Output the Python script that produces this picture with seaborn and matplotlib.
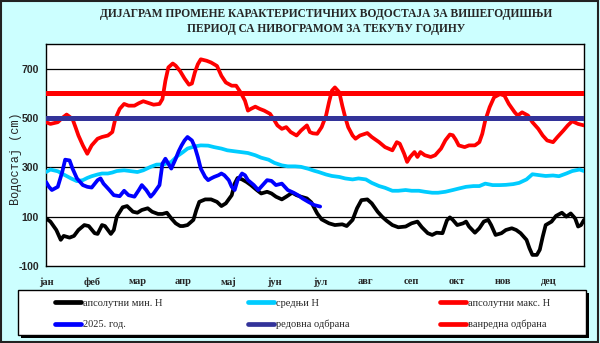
import numpy as np
import pandas as pd
import matplotlib
matplotlib.use("Agg")
import matplotlib.pyplot as plt
from matplotlib.patches import Rectangle
from matplotlib.lines import Line2D
import seaborn as sns

# ---------------- data ----------------
months = ["јан", "феб", "мар", "апр", "мај", "јун", "јул", "авг", "сеп", "окт", "нов", "дец"]

min_days = [0, 3, 7, 10, 12, 16, 19, 22, 26, 29, 33, 35, 38, 40, 44, 46, 48, 52, 55, 59, 62, 65, 69, 72, 76, 79, 82, 85, 88,
            91, 93, 96, 100, 102, 104, 108, 112, 116, 119, 122, 126, 128, 130, 133, 136, 139, 143, 146, 150, 153, 156, 160,
            163, 167, 170, 173, 177, 180, 184, 187, 192, 196, 201, 204, 208, 211, 214, 218, 221, 225, 228, 231, 235, 239,
            244, 248, 252, 255, 259, 262, 265, 269, 272, 274, 276, 279, 283, 285, 287, 291, 294, 297, 300, 302, 305, 309,
            312, 316, 319, 322, 326, 328, 330, 333, 335, 337, 339, 343, 346, 350, 353, 356, 359, 361, 363, 365]
min_vals = [93, 80, 46, 6, 22, 15, 22, 46, 66, 62, 33, 30, 66, 62, 30, 46, 100, 138, 143, 120, 116, 127, 134, 120, 111, 111,
            116, 93, 73, 62, 62, 66, 87, 127, 160, 170, 170, 160, 143, 154, 187, 234, 257, 251, 241, 228, 208, 194, 201,
            194, 181, 170, 181, 197, 187, 181, 174, 158, 113, 89, 73, 66, 69, 62, 87, 134, 167, 170, 154, 120, 100, 84, 66,
            57, 60, 73, 80, 57, 33, 26, 35, 33, 85, 97, 87, 66, 73, 80, 60, 35, 53, 80, 87, 66, 26, 33, 46, 53, 46, 33, 6,
            -28, -55, -55, -34, 19, 66, 80, 103, 116, 100, 113, 93, 60, 66, 87]

mean_days = [0, 3, 8, 12, 17, 21, 25, 28, 31, 35, 38, 42, 45, 48, 53, 57, 62, 66, 71, 75, 80, 85, 89, 93, 96, 101, 105,
             110, 114, 119, 123, 128, 132, 137, 142, 146, 151, 155, 160, 164, 169, 173, 178, 182, 185, 190, 194, 199,
             203, 208, 212, 217, 221, 226, 230, 235, 239, 244, 248, 253, 257, 262, 266, 271, 276, 280, 285, 290, 294,
             298, 303, 308, 312, 317, 321, 326, 330, 335, 339, 344, 348, 353, 357, 362, 365]
mean_vals = [281, 291, 284, 271, 255, 244, 248, 257, 264, 271, 275, 275, 279, 285, 288, 285, 281, 288, 302, 311, 312, 322,
             345, 362, 376, 385, 389, 388, 382, 376, 369, 365, 362, 358, 349, 339, 331, 318, 308, 304, 304, 302, 294,
             286, 281, 271, 265, 261, 255, 251, 255, 251, 237, 224, 217, 205, 205, 208, 205, 205, 201, 197, 197, 201,
             208, 214, 221, 224, 224, 234, 228, 228, 229, 232, 237, 251, 272, 268, 265, 267, 264, 275, 285, 291, 285]

max_days = [0, 3, 8, 11, 14, 18, 20, 22, 25, 28, 31, 35, 38, 42, 45, 47, 50, 53, 56, 60, 63, 66, 70, 73, 77, 79, 81, 83,
            86, 88, 91, 94, 97, 99, 101, 103, 105, 109, 112, 116, 119, 122, 126, 129, 132, 135, 137, 139, 142, 145, 148,
            152, 155, 157, 160, 163, 166, 170, 173, 177, 179, 181, 184, 187, 190, 192, 194, 196, 199, 201, 203, 205, 208,
            210, 213, 218, 221, 226, 230, 235, 238, 240, 243, 245, 247, 250, 252, 254, 257, 261, 264, 268, 271, 274, 276,
            278, 280, 284, 287, 291, 294, 296, 298, 301, 304, 308, 311, 314, 318, 320, 323, 327, 330, 334, 337, 340, 344,
            347, 351, 354, 357, 361, 365]
max_vals = [483, 476, 483, 500, 514, 496, 463, 429, 389, 355, 389, 416, 423, 429, 443, 496, 537, 557, 550, 550, 560, 568,
            560, 554, 557, 577, 651, 705, 721, 712, 690, 660, 635, 640, 685, 718, 738, 732, 725, 711, 671, 644, 631, 631,
            604, 570, 530, 537, 546, 537, 530, 517, 490, 470, 456, 463, 443, 429, 449, 470, 443, 438, 436, 463, 510, 564,
            611, 624, 604, 550, 503, 463, 429, 416, 429, 439, 423, 402, 382, 369, 402, 396, 355, 322, 342, 362, 342, 362,
            349, 342, 349, 376, 410, 433, 430, 412, 389, 382, 389, 389, 402, 436, 490, 544, 584, 597, 591, 557, 523, 510,
            523, 510, 483, 456, 429, 409, 402, 423, 449, 470, 487, 476, 470]

cur_days = [0, 2, 4, 8, 11, 13, 16, 18, 21, 25, 28, 31, 35, 37, 39, 43, 46, 50, 53, 56, 60, 63, 65, 68, 71, 73, 77, 79,
            81, 85, 88, 90, 92, 94, 96, 99, 101, 103, 105, 108, 110, 112, 114, 117, 119, 121, 124, 126, 128, 130, 133,
            135, 137, 141, 144, 147, 150, 153, 156, 160, 162, 164, 168, 171, 174, 178, 182, 186]
cur_vals = [241, 221, 208, 221, 281, 331, 328, 295, 255, 228, 221, 218, 248, 255, 234, 208, 187, 183, 205, 187, 181, 208,
            228, 208, 181, 194, 228, 315, 335, 295, 335, 365, 389, 409, 423, 409, 382, 342, 295, 261, 248, 255, 261, 268,
            275, 268, 248, 221, 208, 248, 275, 268, 248, 228, 208, 228, 248, 245, 228, 234, 221, 208, 197, 187, 174, 160,
            147, 141]

redovna = 500
vanredna = 600

labels = ["апсолутни мин. Н", "средњи Н", "апсолутни макс. Н", "2025. год.", "редовна одбрана", "ванредна одбрана"]
title1 = "ДИЈАГРАМ ПРОМЕНЕ КАРАКТЕРИСТИЧНИХ ВОДОСТАЈА ЗА ВИШЕГОДИШЊИ"
title2 = "ПЕРИОД СА НИВОГРАМОМ ЗА ТЕКУЋУ ГОДИНУ"
ylabel = "Водостај (cm)"

# ---------------- figure ----------------
sns.set_style("white")
W, H = 600, 343
bg = "#CCFFFF"
fig = plt.figure(figsize=(W / 100, H / 100), dpi=100, facecolor=bg)
ax = fig.add_axes([46 / W, 1 - 266 / H, 538 / W, 222 / H])
ax.set_facecolor("white")

serif = "Liberation Serif"
sans = "Liberation Sans"

col_min, col_mean, col_max, col_cur = "black", "#00CCFF", "#FF0000", "#0000FF"
col_red, col_van = "#333399", "#FF0000"
lw = 2.7
kw = dict(estimator=None, sort=False, solid_joinstyle="round", solid_capstyle="round")

yticks = [-100, 100, 300, 500, 700]
for yv in yticks[1:]:
    ax.axhline(yv, color="black", lw=0.9, zorder=1)

series = [(min_days, min_vals, col_min), (mean_days, mean_vals, col_mean),
          (max_days, max_vals, col_max), (cur_days, cur_vals, col_cur)]
handles = []
for i, (d, v, c) in enumerate(series):
    df = pd.DataFrame({"dan": d, "H": v})
    sns.lineplot(data=df, x="dan", y="H", ax=ax, color=c, lw=lw, zorder=2 + i, **kw)
    handles.append(ax.lines[-1])

h_red = ax.axhline(redovna, color=col_red, lw=3.6, zorder=7)
h_van = ax.axhline(vanredna, color=col_van, lw=3.6, zorder=7)

ax.set_xlim(0, 365)
ax.set_ylim(-100, 800)
ax.set_xlabel("")
ax.set_ylabel("")
ax.set_xticks(np.arange(12) * 31)
ax.set_xticklabels(months, fontfamily=serif, fontweight="bold", fontsize=7.5)
ax.set_yticks(yticks)
ax.set_yticklabels([str(t) for t in yticks], fontfamily=sans, fontweight="bold", fontsize=7.5)
ax.tick_params(axis="x", direction="inout", length=6, width=0.8, color="black", pad=5)
ax.tick_params(axis="y", direction="out", length=3, width=0.8, color="black", pad=2)
for s in ax.spines.values():
    s.set_color("black")
    s.set_linewidth(1.0)
    s.set_visible(True)

fig.text(326 / W, 1 - 14 / H, title1, ha="center", va="center", fontfamily=serif,
         fontweight="bold", fontsize=8.3)
fig.text(326 / W, 1 - 29 / H, title2, ha="center", va="center", fontfamily=serif,
         fontweight="bold", fontsize=8.3)
fig.text(16 / W, 1 - 159 / H, ylabel, rotation=90, ha="center", va="center",
         fontfamily="Liberation Mono", fontsize=8.6)

# legend box with shadow
bx0, by0, bx1, by1 = 18, 290, 586, 335
fig.patches.append(Rectangle(((bx0 + 3) / W, 1 - (by1 + 3) / H), (bx1 - bx0) / W, (by1 - by0) / H,
                             transform=fig.transFigure, facecolor="black", edgecolor="black", lw=0, zorder=1))
fig.patches.append(Rectangle((bx0 / W, 1 - by1 / H), (bx1 - bx0) / W, (by1 - by0) / H,
                             transform=fig.transFigure, facecolor="white", edgecolor="black", lw=1.0, zorder=2))

cols = [([handles[0], handles[3]], [labels[0], labels[3]], 55),
        ([handles[1], h_red], [labels[1], labels[4]], 248),
        ([handles[2], h_van], [labels[2], labels[5]], 440)]
for hs, ls, x0 in cols:
    lh = [Line2D([], [], color=h.get_color(), lw=3.4, solid_capstyle="round") for h in hs]
    leg = fig.legend(lh, ls, loc="center left", bbox_to_anchor=(x0 / W, 1 - 314 / H),
                     frameon=False, prop={"family": serif, "size": 7.5}, handlelength=2.5,
                     handletextpad=0.2, borderaxespad=0, borderpad=0, labelspacing=1.15)
    leg.set_zorder(5)

# outer border
fig.patches.append(Rectangle((0.002, 0.003), 0.995, 0.994, transform=fig.transFigure,
                             fill=False, edgecolor="#222222", lw=1.5))

fig.savefig("out.png", dpi=100, facecolor=bg)
